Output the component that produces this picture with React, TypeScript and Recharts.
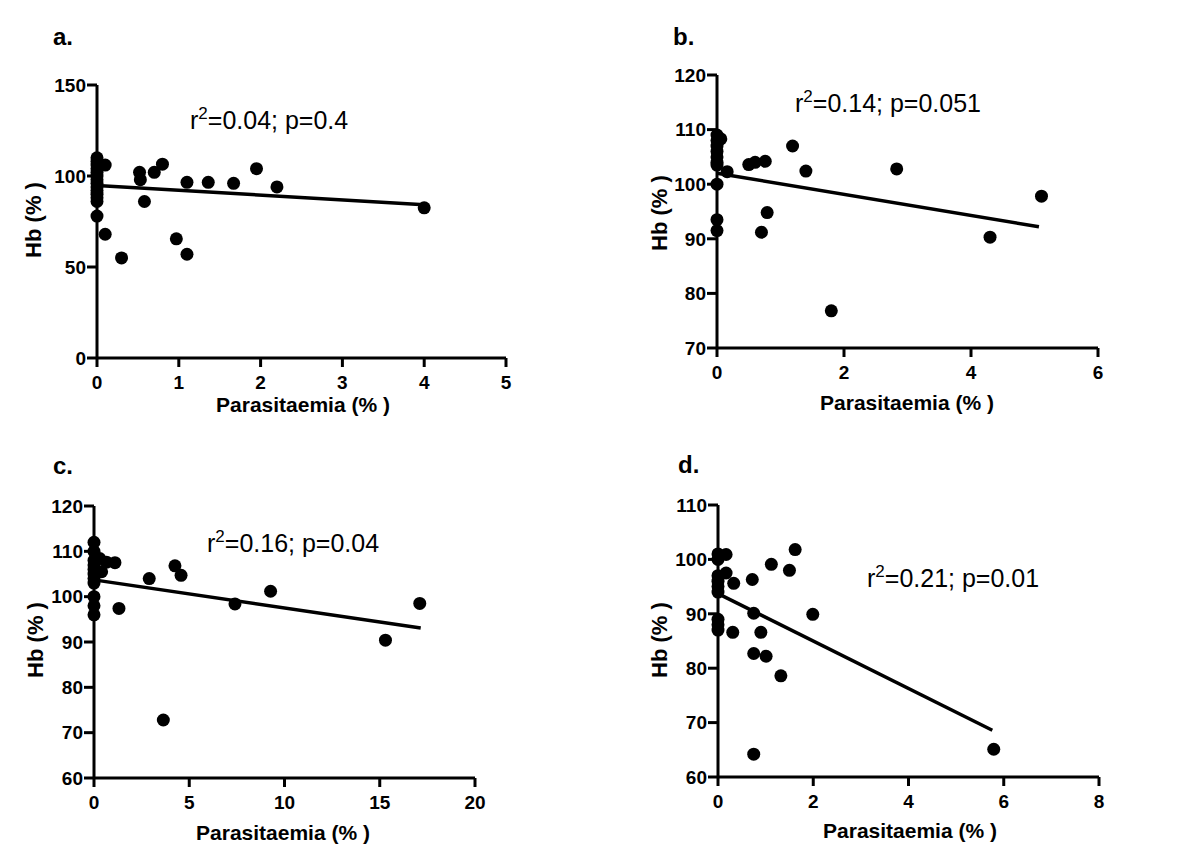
import { ScatterChart, Scatter, XAxis, YAxis } from 'recharts';

const FONT = '"Liberation Sans", Arial, Helvetica, sans-serif';

// Panel a: Hb (%) vs parasitaemia (%)
const paraA = [0, 0, 0, 0, 0, 0, 0, 0, 0, 0, 0, 0, 0, 0, 0.1, 0.1, 0.3, 0.52, 0.53, 0.58, 0.7, 0.8, 0.97, 1.1, 1.1, 1.36, 1.67, 1.95, 2.2, 4.0];
const hbA = [110, 108, 106, 104, 102, 100, 98, 96, 94, 92, 90, 88, 86, 78, 106, 68, 55, 102, 98, 86, 102, 106.5, 65.5, 96.5, 57, 96.5, 96, 104, 94, 82.5];
const fitAX = [0, 4];
const fitAY = [94.8, 84.2];

// Panel b
const paraB = [0, 0, 0, 0, 0, 0, 0, 0, 0, 0, 0.06, 0.16, 0.5, 0.6, 0.76, 0.7, 0.79, 1.19, 1.4, 1.8, 2.83, 4.3, 5.11];
const hbB = [109, 108, 107, 106, 105, 104, 103.5, 100, 93.5, 91.5, 108.3, 102.3, 103.6, 104, 104.2, 91.2, 94.8, 107, 102.4, 76.8, 102.8, 90.3, 97.8];
const fitBX = [0, 5.07];
const fitBY = [102, 92.2];

// Panel c
const paraC = [0, 0, 0, 0, 0, 0, 0, 0, 0, 0, 0, 0.3, 0.4, 0.66, 1.1, 1.31, 2.9, 4.25, 4.57, 3.64, 7.4, 9.27, 15.3, 17.1];
const hbC = [112, 110, 108, 107, 106, 105, 104, 103, 100, 98, 96, 108.4, 105.5, 107.6, 107.5, 97.4, 104, 106.8, 104.7, 72.8, 98.4, 101.2, 90.4, 98.5];
const fitCX = [0, 17.15];
const fitCY = [103.7, 93.1];

// Panel d
const paraD = [0, 0, 0, 0, 0, 0, 0, 0, 0, 0.17, 0.17, 0.33, 0.31, 0.72, 0.75, 0.9, 0.75, 1.01, 1.12, 1.32, 0.75, 1.5, 1.62, 1.99, 5.79];
const hbD = [101, 100, 97, 96, 95, 94, 89, 88, 87, 100.9, 97.5, 95.6, 86.6, 96.3, 90.1, 86.6, 82.7, 82.2, 99.1, 78.6, 64.2, 98, 101.8, 89.9, 65.1];
const fitDX = [0, 5.76];
const fitDY = [93.7, 68.6];

const xTicksA = [0, 1, 2, 3, 4, 5];
const yTicksA = [0, 50, 100, 150];
const xTicksB = [0, 2, 4, 6];
const yTicksB = [70, 80, 90, 100, 110, 120];
const xTicksC = [0, 5, 10, 15, 20];
const yTicksC = [60, 70, 80, 90, 100, 110, 120];
const xTicksD = [0, 2, 4, 6, 8];
const yTicksD = [60, 70, 80, 90, 100, 110];

const zip = (xs: number[], ys: number[]) => xs.map((x, i) => ({ x, y: ys[i] }));

const ML = 70; // room for y ticks
const MT = 15;
const MR = 20;
const MB = 40;

const tickStyle = { fill: '#000', fontSize: 19, fontWeight: 700, fontFamily: FONT };
const axisStroke = { stroke: '#000', strokeWidth: 3 };

const Dot = (props: any) =>
  props.cx == null ? <g /> : <circle cx={props.cx} cy={props.cy} r={6.5} fill="#000" />;
const NoDot = () => <g />;

interface PanelProps {
  left: number;
  top: number;
  w: number;
  h: number;
  xTicks: number[];
  yTicks: number[];
  xs: number[];
  ys: number[];
  fitX: number[];
  fitY: number[];
}

function Panel({ left, top, w, h, xTicks, yTicks, xs, ys, fitX, fitY }: PanelProps) {
  const xDomain: [number, number] = [xTicks[0], xTicks[xTicks.length - 1]];
  const yDomain: [number, number] = [yTicks[0], yTicks[yTicks.length - 1]];
  return (
    <div style={{ position: 'absolute', left: left - ML, top: top - MT }}>
      <ScatterChart
        width={w + ML + MR}
        height={h + MT + MB}
        margin={{ top: MT, right: MR, bottom: 0, left: 0 }}
      >
        <XAxis
          type="number"
          dataKey="x"
          domain={xDomain}
          ticks={xTicks}
          height={MB}
          axisLine={axisStroke}
          tickLine={axisStroke}
          tickSize={9}
          tickMargin={9}
          tick={tickStyle}
          interval={0}
        />
        <YAxis
          type="number"
          dataKey="y"
          domain={yDomain}
          ticks={yTicks}
          width={ML}
          axisLine={axisStroke}
          tickLine={axisStroke}
          tickSize={10}
          tickMargin={1}
          tick={tickStyle}
          interval={0}
        />
        <Scatter data={zip(xs, ys)} shape={Dot} isAnimationActive={false} />
        <Scatter
          data={zip(fitX, fitY)}
          shape={NoDot}
          line={{ stroke: '#000', strokeWidth: 3.5 }}
          isAnimationActive={false}
        />
      </ScatterChart>
    </div>
  );
}

function Stat({ x, y, r2, p }: { x: number; y: number; r2: string; p: string }) {
  return (
    <text x={x} y={y} fontFamily={FONT} fontSize={25} fill="#000">
      r
      <tspan dy={-10} fontSize={17}>2</tspan>
      <tspan dy={10}>{`=${r2}; p=${p}`}</tspan>
    </text>
  );
}

function Labels({ tx, ty, title, xlx, xly, ylx, yly }: { tx: number; ty: number; title: string; xlx: number; xly: number; ylx: number; yly: number }) {
  return (
    <g fontFamily={FONT} fontWeight={700} fill="#000">
      <text x={tx} y={ty} fontSize={24}>{title}</text>
      <text x={xlx} y={xly} fontSize={21} textAnchor="middle">Parasitaemia (% )</text>
      <text
        x={ylx}
        y={yly}
        fontSize={22}
        textAnchor="middle"
        dominantBaseline="central"
        transform={`rotate(-90 ${ylx} ${yly})`}
      >
        Hb (% )
      </text>
    </g>
  );
}

export default function App() {
  return (
    <div style={{ position: 'absolute', left: 0, top: 0, width: 1200, height: 866, background: '#fff' }}>
      <Panel left={97} top={85} w={409} h={273} xTicks={xTicksA} yTicks={yTicksA} xs={paraA} ys={hbA} fitX={fitAX} fitY={fitAY} />
      <Panel left={717} top={75} w={381} h={273} xTicks={xTicksB} yTicks={yTicksB} xs={paraB} ys={hbB} fitX={fitBX} fitY={fitBY} />
      <Panel left={94} top={506} w={381} h={272} xTicks={xTicksC} yTicks={yTicksC} xs={paraC} ys={hbC} fitX={fitCX} fitY={fitCY} />
      <Panel left={718} top={505} w={381} h={272} xTicks={xTicksD} yTicks={yTicksD} xs={paraD} ys={hbD} fitX={fitDX} fitY={fitDY} />
      <svg width={1200} height={866} style={{ position: 'absolute', left: 0, top: 0, pointerEvents: 'none' }}>
        <Labels tx={53} ty={45} title="a." xlx={303} xly={412} ylx={33} yly={220} />
        <Labels tx={673} ty={45} title="b." xlx={907} xly={410} ylx={659} yly={213} />
        <Labels tx={53} ty={474} title="c." xlx={283} xly={840} ylx={35} yly={640} />
        <Labels tx={678} ty={473} title="d." xlx={910} xly={838} ylx={659} yly={640} />
        <Stat x={190} y={129} r2="0.04" p="0.4" />
        <Stat x={795} y={112} r2="0.14" p="0.051" />
        <Stat x={207} y={552} r2="0.16" p="0.04" />
        <Stat x={867} y={587} r2="0.21" p="0.01" />
      </svg>
    </div>
  );
}
